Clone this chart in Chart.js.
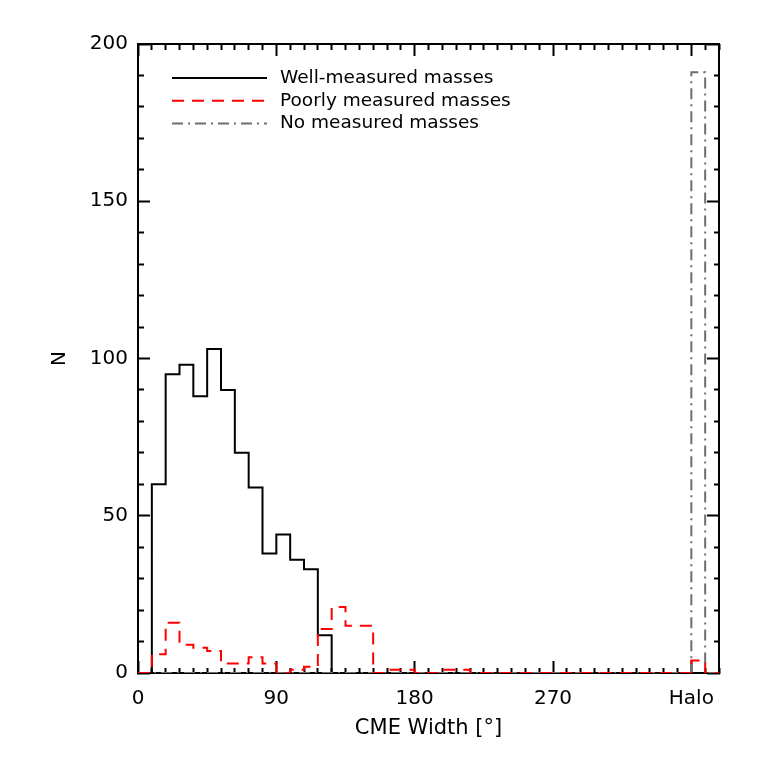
<!DOCTYPE html>
<html>
<head>
<meta charset="utf-8">
<script src="https://cdn.jsdelivr.net/npm/chart.js@4/dist/chart.umd.min.js"></script>
<style>
  html, body { margin: 0; padding: 0; background: #fff; }
</style>
</head>
<body>
<canvas id="chart" width="761" height="761"></canvas>
<script>
// ------------------- Data -------------------
// 9 degree bins, the 360-369 bin holds the halo CMEs
const binEdges = [0, 9, 18, 27, 36, 45, 54, 63, 72, 81, 90, 99, 108, 117, 126, 135, 144, 153, 162, 171,
  180, 189, 198, 207, 216, 225, 234, 243, 252, 261, 270, 279, 288, 297, 306, 315, 324, 333, 342, 351,
  360, 369, 378];

const wellMeasured = [0, 60, 95, 98, 88, 103, 90, 70, 59, 38, 44, 36, 33, 12, 0, 0, 0, 0, 0, 0,
  0, 0, 0, 0, 0, 0, 0, 0, 0, 0, 0, 0, 0, 0, 0, 0, 0, 0, 0, 0, 0, 0];
const poorlyMeasured = [0, 6, 16, 9, 8, 7, 3, 3, 5, 3, 0, 1, 2, 14, 21, 15, 15, 0, 1, 1,
  0, 0, 1, 1, 0, 0, 0, 0, 0, 0, 0, 0, 0, 0, 0, 0, 0, 0, 0, 0, 4, 0];
const noMeasured = [0, 0, 0, 0, 0, 0, 0, 0, 0, 0, 0, 0, 0, 0, 0, 0, 0, 0, 0, 0,
  0, 0, 0, 0, 0, 0, 0, 0, 0, 0, 0, 0, 0, 0, 0, 0, 0, 0, 0, 0, 191, 0];

const xTickLabels = { 0: "0", 90: "90", 180: "180", 270: "270", 360: "Halo" };
const yTicks = [0, 10, 20, 30, 40, 50, 60, 70, 80, 90, 100, 110, 120, 130, 140, 150, 160, 170, 180, 190, 200];
const yTickLabels = [0, 50, 100, 150, 200];

// ------------------- Helpers -------------------
function toSteps(counts) {
  const pts = counts.map((c, i) => ({ x: binEdges[i], y: c }));
  pts.push({ x: binEdges[counts.length], y: 0 });
  return pts;
}

function isMajor(scaleId, value) {
  if (scaleId === "x" || scaleId === "x2") return xTickLabels[value] !== undefined;
  return yTickLabels.includes(value);
}

// ticks point inward; minor ones are cut short with a dash
function tickGrid(startsInside) {
  return {
    display: true,
    drawOnChartArea: false,
    drawTicks: true,
    tickLength: -12,
    tickWidth: 2,
    tickColor: "#000",
    tickBorderDash: c => (c.tick && isMajor(c.scale.id, c.tick.value)) ? [] : (startsInside ? [6, 6] : [6, 20]),
    tickBorderDashOffset: c => (c.tick && isMajor(c.scale.id, c.tick.value)) ? 0 : (startsInside ? 6 : 0)
  };
}

const font = { family: "DejaVu Sans", size: 20 };

// ------------------- Legend inside plot -------------------
const insideLegend = {
  id: "insideLegend",
  afterDatasetsDraw(chart) {
    const ctx = chart.ctx;
    const left = chart.chartArea.left;
    chart.data.datasets.forEach((ds, i) => {
      const y = 78 + i * 22.8;
      ctx.save();
      ctx.strokeStyle = ds.borderColor;
      ctx.lineWidth = ds.borderWidth;
      ctx.setLineDash(ds.borderDash || []);
      ctx.beginPath();
      ctx.moveTo(left + 34, y);
      ctx.lineTo(left + 129, y);
      ctx.stroke();
      ctx.setLineDash([]);
      ctx.fillStyle = "#000";
      ctx.font = '18.5px "DejaVu Sans"';
      ctx.textBaseline = "middle";
      ctx.fillText(ds.label, left + 142, y);
      ctx.restore();
    });
  }
};

// ------------------- Chart -------------------
new Chart(document.getElementById("chart"), {
  type: "line",
  data: {
    datasets: [
      { label: "Well-measured masses", data: toSteps(wellMeasured), borderColor: "#000", borderWidth: 2, order: 3 },
      { label: "Poorly measured masses", data: toSteps(poorlyMeasured), borderColor: "#ff0000", borderWidth: 2, borderDash: [12, 8], order: 1 },
      { label: "No measured masses", data: toSteps(noMeasured), borderColor: "#6e6e6e", borderWidth: 2, borderDash: [11, 5, 2, 5], order: 2 }
    ]
  },
  options: {
    responsive: false,
    animation: false,
    devicePixelRatio: 1,
    layout: { padding: { left: 0, right: 42, top: 44, bottom: 0 } },
    elements: {
      line: { stepped: true, fill: false, tension: 0, borderCapStyle: "butt" },
      point: { radius: 0 }
    },
    plugins: { legend: { display: false }, tooltip: { enabled: false } },
    scales: {
      x: {
        type: "linear", position: "bottom", min: 0, max: 378,
        afterBuildTicks: s => { s.ticks = binEdges.map(v => ({ value: v })); },
        afterFit: s => { s.height = 88; },
        ticks: {
          autoSkip: false, maxRotation: 0, padding: 26, color: "#000", font,
          callback: v => xTickLabels[v] !== undefined ? xTickLabels[v] : ""
        },
        grid: tickGrid(false),
        border: { display: true, color: "#000", width: 2 },
        title: { display: true, text: "CME Width [°]", color: "#000", font: { family: "DejaVu Sans", size: 21 }, padding: { top: 0, bottom: 20 } }
      },
      x2: {
        type: "linear", position: "top", min: 0, max: 378,
        afterBuildTicks: s => { s.ticks = binEdges.map(v => ({ value: v })); },
        afterFit: s => { s.height = 0; },
        ticks: { display: false },
        grid: tickGrid(true),
        border: { display: true, color: "#000", width: 2 }
      },
      y: {
        type: "linear", position: "left", min: 0, max: 200,
        afterBuildTicks: s => { s.ticks = yTicks.map(v => ({ value: v })); },
        afterFit: s => { s.width = 138; },
        ticks: {
          autoSkip: false, padding: 22, color: "#000", font,
          callback: v => yTickLabels.includes(v) ? String(v) : ""
        },
        grid: tickGrid(true),
        border: { display: true, color: "#000", width: 2 },
        title: { display: true, text: "N", color: "#000", font, padding: { top: 48, bottom: 0 } }
      },
      y2: {
        type: "linear", position: "right", min: 0, max: 200,
        afterBuildTicks: s => { s.ticks = yTicks.map(v => ({ value: v })); },
        afterFit: s => { s.width = 0; },
        ticks: { display: false },
        grid: tickGrid(false),
        border: { display: true, color: "#000", width: 2 }
      }
    }
  },
  plugins: [insideLegend]
});
</script>
</body>
</html>
